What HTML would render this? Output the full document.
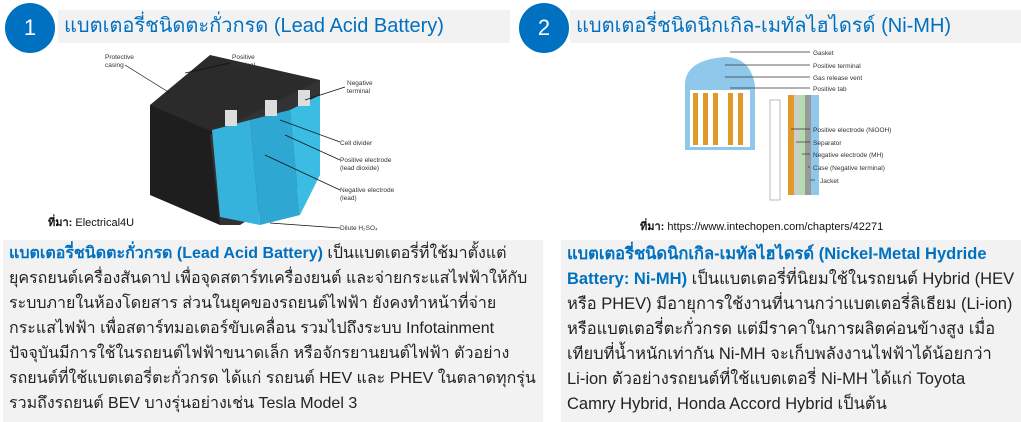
<!DOCTYPE html>
<html><head><meta charset="utf-8"><style>
body{margin:0;width:1021px;height:422px;background:#fff;position:relative;overflow:hidden;font-family:"Liberation Sans","Noto Sans CJK SC",sans-serif}
.circ{position:absolute;width:50px;height:50px;border-radius:50%;background:#0070c0;color:#fff;font-size:22px;text-align:center;line-height:50px}
.hbar{position:absolute;background:#f2f2f2;height:33px;top:10px;color:#0070c0;font-size:20px;line-height:33px;padding-left:6px;box-sizing:border-box}
.box{position:absolute;background:#f2f2f2;top:240px;height:182px;font-size:16.5px;line-height:25px;color:#222;padding:1px 6px;box-sizing:border-box;white-space:nowrap;overflow:hidden}
.b{color:#0070c0;font-weight:bold}
.src{position:absolute;font-size:11px;color:#111}
.lbl{font-family:"Liberation Sans",sans-serif;font-size:6.5px;fill:#333}
</style></head><body>
<div class="circ" style="left:5px;top:3px">1</div>
<div class="hbar" style="left:58px;width:452px">แบตเตอรี่ชนิดตะกั่วกรด (Lead Acid Battery)</div>
<div class="circ" style="left:519px;top:3px">2</div>
<div class="hbar" style="left:570px;width:451px">แบตเตอรี่ชนิดนิกเกิล-เมทัลไฮไดรด์ (Ni-MH)</div>

<svg style="position:absolute;left:100px;top:45px" width="320" height="190">
<polygon points="50,60 110,10 220,35 190,110 120,130 50,110" fill="#2b2b2b"/>
<polygon points="50,60 120,90 120,180 50,150" fill="#1e1e1e"/>
<polygon points="110,90 220,35 220,130 140,180 120,180" fill="#333"/>
<polygon points="112,85 150,75 160,180 120,172" fill="#35b3dc"/>
<polygon points="150,75 190,65 200,170 160,180" fill="#2fa7d3"/>
<polygon points="190,65 220,50 220,130 200,170" fill="#3bbde3"/>
<rect x="125" y="65" width="12" height="16" fill="#ddd"/><rect x="165" y="55" width="12" height="16" fill="#ddd"/><rect x="198" y="45" width="12" height="16" fill="#ddd"/>
<g stroke="#111" stroke-width="0.7">
<line x1="25" y1="20" x2="70" y2="48"/><line x1="130" y1="18" x2="85" y2="28"/><line x1="245" y1="42" x2="205" y2="55"/>
<line x1="240" y1="97" x2="180" y2="75"/><line x1="240" y1="115" x2="185" y2="90"/><line x1="240" y1="145" x2="165" y2="110"/><line x1="240" y1="183" x2="170" y2="178"/></g>
<text class="lbl" x="5" y="14">Protective</text><text class="lbl" x="5" y="22">casing</text>
<text class="lbl" x="132" y="14">Positive</text><text class="lbl" x="132" y="22">terminal</text>
<text class="lbl" x="247" y="40">Negative</text><text class="lbl" x="247" y="48">terminal</text>
<text class="lbl" x="240" y="100">Cell divider</text>
<text class="lbl" x="240" y="117">Positive electrode</text><text class="lbl" x="240" y="125">(lead dioxide)</text>
<text class="lbl" x="240" y="147">Negative electrode</text><text class="lbl" x="240" y="155">(lead)</text>
<text class="lbl" x="240" y="185">Dilute H₂SO₄</text>
</svg>
<div class="src" style="left:48px;top:213px"><b>ที่มา:</b> Electrical4U</div>

<svg style="position:absolute;left:670px;top:45px" width="260" height="160">
<path d="M15,40 Q15,15 55,12 Q80,12 85,40 L85,105 L15,105 Z" fill="#8fc8ea"/>
<rect x="20" y="45" width="60" height="57" fill="#fff"/>
<g fill="#e09a2a"><rect x="23" y="48" width="5" height="52"/><rect x="33" y="48" width="5" height="52"/><rect x="43" y="48" width="5" height="52"/><rect x="58" y="48" width="5" height="52"/><rect x="68" y="48" width="5" height="52"/></g>
<rect x="100" y="55" width="10" height="100" fill="#fff" stroke="#bbb"/>
<rect x="118" y="50" width="6" height="100" fill="#e09a2a"/><rect x="124" y="50" width="5" height="100" fill="#ccc"/><rect x="129" y="50" width="6" height="100" fill="#b5dcb0"/><rect x="135" y="50" width="6" height="100" fill="#999"/><rect x="141" y="50" width="8" height="100" fill="#8fc8ea"/>
<g stroke="#333" stroke-width="0.7"><line x1="60" y1="7" x2="140" y2="7"/><line x1="55" y1="20" x2="140" y2="20"/><line x1="55" y1="32" x2="140" y2="32"/><line x1="60" y1="43" x2="140" y2="43"/><line x1="121" y1="84" x2="140" y2="84"/><line x1="126" y1="97" x2="140" y2="97"/><line x1="132" y1="109" x2="140" y2="109"/><line x1="138" y1="122" x2="140" y2="122"/><line x1="145" y1="135" x2="140" y2="135"/></g>
<text class="lbl" x="143" y="10">Gasket</text><text class="lbl" x="143" y="23">Positive terminal</text><text class="lbl" x="143" y="35">Gas release vent</text><text class="lbl" x="143" y="46">Positive tab</text>
<text class="lbl" x="143" y="87">Positive electrode (NiOOH)</text><text class="lbl" x="143" y="100">Separator</text><text class="lbl" x="143" y="112">Negative electrode (MH)</text><text class="lbl" x="143" y="125">Case (Negative terminal)</text><text class="lbl" x="150" y="138">Jacket</text>
</svg>
<div class="src" style="left:640px;top:217px"><b>ที่มา:</b> https://www.intechopen.com/chapters/42271</div>

<div class="box" style="left:3px;width:540px;font-size:16px"><span class="b">แบตเตอรี่ชนิดตะกั่วกรด (Lead Acid Battery)</span> เป็นแบตเตอรี่ที่ใช้มาตั้งแต่<br>ยุครถยนต์เครื่องสันดาป เพื่อจุดสตาร์ทเครื่องยนต์ และจ่ายกระแสไฟฟ้าให้กับ<br>ระบบภายในห้องโดยสาร ส่วนในยุคของรถยนต์ไฟฟ้า ยังคงทำหน้าที่จ่าย<br>กระแสไฟฟ้า เพื่อสตาร์ทมอเตอร์ขับเคลื่อน รวมไปถึงระบบ Infotainment<br>ปัจจุบันมีการใช้ในรถยนต์ไฟฟ้าขนาดเล็ก หรือจักรยานยนต์ไฟฟ้า ตัวอย่าง<br>รถยนต์ที่ใช้แบตเตอรี่ตะกั่วกรด ได้แก่ รถยนต์ HEV และ PHEV ในตลาดทุกรุ่น<br>รวมถึงรถยนต์ BEV บางรุ่นอย่างเช่น Tesla Model 3</div>
<div class="box" style="left:561px;width:460px;padding-top:2px"><span class="b">แบตเตอรี่ชนิดนิกเกิล-เมทัลไฮไดรด์ (Nickel-Metal Hydride<br>Battery: Ni-MH)</span> เป็นแบตเตอรี่ที่นิยมใช้ในรถยนต์ Hybrid (HEV<br>หรือ PHEV) มีอายุการใช้งานที่นานกว่าแบตเตอรี่ลิเธียม (Li-ion)<br>หรือแบตเตอรี่ตะกั่วกรด แต่มีราคาในการผลิตค่อนข้างสูง เมื่อ<br>เทียบที่น้ำหนักเท่ากัน Ni-MH จะเก็บพลังงานไฟฟ้าได้น้อยกว่า<br>Li-ion ตัวอย่างรถยนต์ที่ใช้แบตเตอรี่ Ni-MH ได้แก่ Toyota<br>Camry Hybrid, Honda Accord Hybrid เป็นต้น</div>
</body></html>
